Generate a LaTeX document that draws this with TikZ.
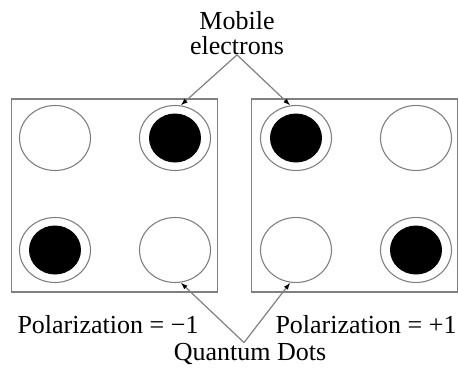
\documentclass[tikz,border=0pt]{standalone}
\usepackage{fontspec}
\setmainfont{Liberation Serif}
\usetikzlibrary{arrows.meta,shapes.geometric}

\begin{document}
\begin{tikzpicture}[x=1pt, y=-1pt,
  cell/.style={rectangle, draw=gray, line width=1.6pt,
    minimum width=206pt, minimum height=193pt},
  dot/.style={ellipse, draw=gray, line width=1.1pt, inner sep=0pt,
    minimum width=71pt, minimum height=65pt},
  full/.style={dot, path picture={\fill[black]
    (path picture bounding box.center) ellipse (26pt and 24.5pt);}},
  lbl/.style={font=\fontsize{26}{25}\selectfont, inner sep=0pt, align=center},
  wire/.style={draw=gray, line width=1.2pt, -{Latex[black, length=7pt, width=5pt]}}]
  \useasboundingbox (0,0) rectangle (459,372);

  % the two cells
  \node[cell] (lcell) at (114.5,195.5) {};
  \node[cell] (rcell) at (354.5,195.5) {};

  % quantum dots, left cell
  \node[dot]  (l1) at (55,138) {};
  \node[full] (l2) at (175,138) {};
  \node[full] (l3) at (55,250) {};
  \node[dot]  (l4) at (175,250) {};
  % quantum dots, right cell
  \node[full] (r1) at (296,138) {};
  \node[dot]  (r2) at (416,138) {};
  \node[dot]  (r3) at (296,250) {};
  \node[full] (r4) at (416,250) {};

  % labels
  \node[lbl] (mob) at (237,33) {Mobile\\electrons};
  \node[lbl, anchor=base] (polm) at (108,333) {Polarization = −1};
  \node[lbl, anchor=base] (polp) at (366,333) {Polarization = +1};
  \node[lbl, anchor=base] (qd) at (250,360) {Quantum Dots};

  \draw[wire] (mob.south) -- (l2.80);
  \draw[wire] (mob.south) -- (r1.100);
  \draw[wire] ([xshift=-6pt]qd.north) -- (l4.-80);
  \draw[wire] ([xshift=-6pt]qd.north) -- (r3.-100);
\end{tikzpicture}
\end{document}
